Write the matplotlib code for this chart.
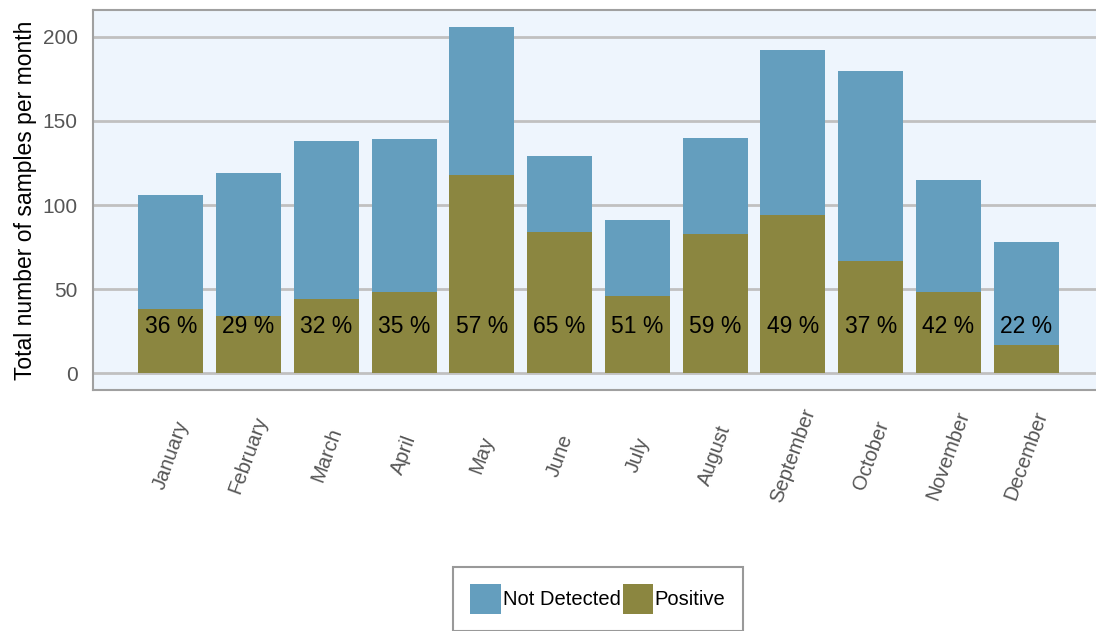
import matplotlib
matplotlib.use("Agg")
import matplotlib.pyplot as plt
from matplotlib.patches import Patch

months = ["January", "February", "March", "April", "May", "June", "July",
          "August", "September", "October", "November", "December"]
positive = [38, 34, 44, 48, 118, 84, 46, 83, 94, 67, 48, 17]
not_detected = [68, 85, 94, 91, 88, 45, 45, 57, 98, 113, 67, 61]
pct_labels = ["36 %", "29 %", "32 %", "35 %", "57 %", "65 %", "51 %",
              "59 %", "49 %", "37 %", "42 %", "22 %"]
yticks = [0, 50, 100, 150, 200]

blue = "#649ebe"
olive = "#8b8640"

plt.rcParams['font.family'] = ['Liberation Sans', 'DejaVu Sans']

fig = plt.figure(figsize=(10.96, 6.31), dpi=100)
ax = fig.add_axes([93/1096, 1-390/631, 1011/1096, 380/631])
ax.set_facecolor("#eef5fd")

x = list(range(1, len(months) + 1))
ax.bar(x, positive, width=0.835, color=olive, zorder=3)
ax.bar(x, not_detected, bottom=positive, width=0.835, color=blue, zorder=3)

for xi, lab in zip(x, pct_labels):
    ax.text(xi, 28, lab, ha="center", va="center", fontsize=16.5,
            color="black", zorder=4)

ax.set_xlim(0, 13)
ax.set_ylim(-10, 216)
ax.set_yticks(yticks)
ax.set_yticklabels([str(v) for v in yticks], fontsize=15, color="#555555")
ax.tick_params(axis="y", length=0, pad=11)
ax.set_xticks(x)
ax.set_xticklabels(months, rotation=70, ha="center", va="center",
                   fontsize=14.5, color="#555555")
ax.tick_params(axis="x", length=0, pad=47)

ax.grid(axis="y", color="#c0c0c0", linewidth=2, zorder=1)
ax.set_axisbelow(True)
for s in ["left", "top", "bottom"]:
    ax.spines[s].set_color("#a0a0a0")
    ax.spines[s].set_linewidth(1.5)
ax.spines["right"].set_visible(False)

ax.set_ylabel("Total number of samples per month", fontsize=16.5, color="black")
ax.yaxis.set_label_coords(-0.055, 0.5)

handles = [Patch(facecolor=blue, label="Not Detected"),
           Patch(facecolor=olive, label="Positive")]
leg = fig.legend(handles=handles, loc="upper center",
                 bbox_to_anchor=(598/1096, 1-567/631), ncol=2, fontsize=14.5,
                 frameon=True, fancybox=False, handlelength=1.5,
                 handleheight=1.9, handletextpad=0.1, columnspacing=0.1,
                 borderpad=0.85, borderaxespad=0)
leg.get_frame().set_edgecolor("#808080")
leg.get_frame().set_linewidth(1.5)

fig.savefig("out.png", dpi=100)
